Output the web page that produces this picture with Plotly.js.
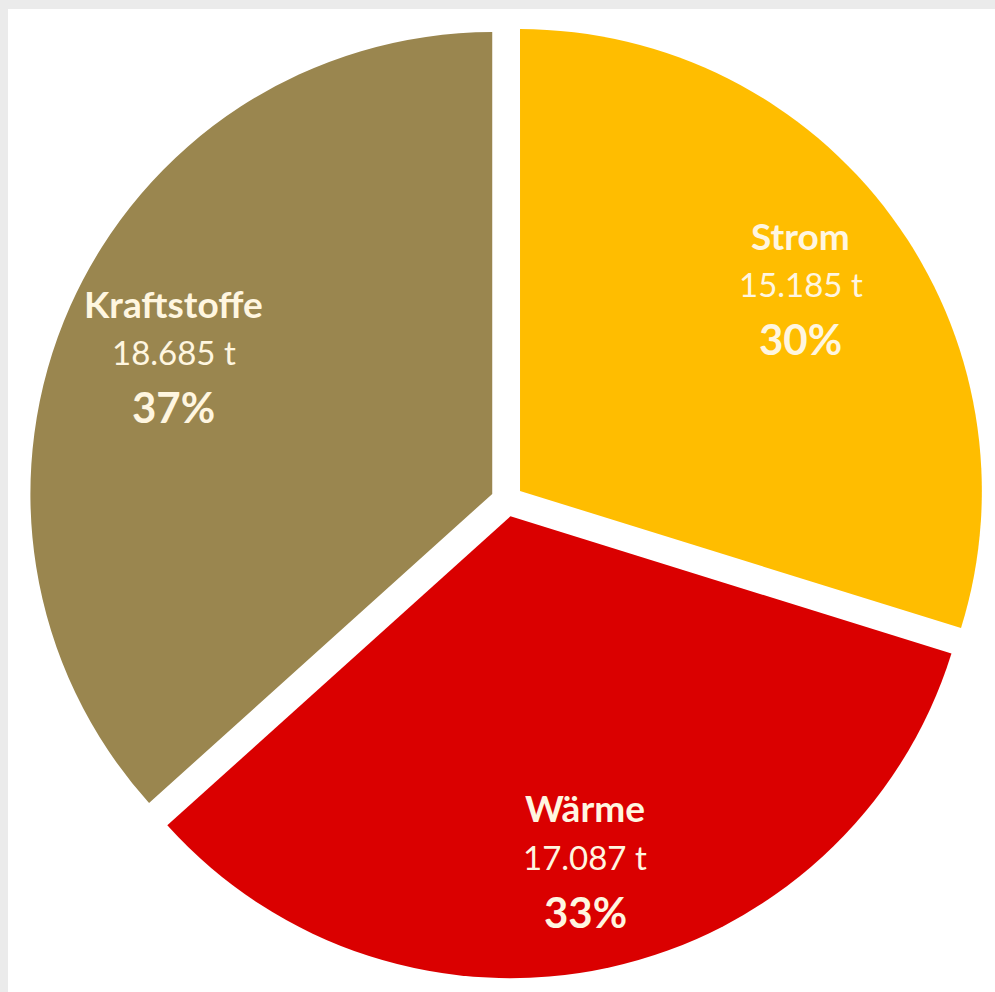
<!DOCTYPE html>
<html>
<head>
<meta charset="utf-8">
<script src="https://cdn.plot.ly/plotly-3.0.1.min.js"></script>
<style>html,body{margin:0;padding:0;background:#fff;}#chart{width:995px;height:992px;}</style>
</head>
<body>
<div id="chart"></div>
<script>
const categories = ["Strom", "Wärme", "Kraftstoffe"];
const tonnes = [15185, 17087, 18685];
const pctLabels = ["30%", "33%", "37%"];
const colors = ["#FFBD00", "#DA0000", "#9A864F"];

const W = 995, H = 992;
const domX = [0.0291, 0.990];
const domY = [0.0136, 0.9773];
const pullFrac = 0.035;

const trace = {
  type: "pie",
  labels: categories,
  values: tonnes,
  sort: false,
  direction: "clockwise",
  rotation: 0,
  pull: categories.map(() => pullFrac),
  marker: {colors: colors, line: {color: "#ffffff", width: 0}},
  textinfo: "none",
  hoverinfo: "none",
  domain: {x: domX, y: domY}
};

// label positions derived from the slice mid-angles (same geometry Plotly uses)
const cx = (domX[0] + domX[1]) / 2 * W;
const cy = (1 - (domY[0] + domY[1]) / 2) * H;
const R = Math.min((domX[1] - domX[0]) * W, (domY[1] - domY[0]) * H) / 2 / (1 + pullFrac);
const total = tonnes.reduce((a, b) => a + b, 0);
const fmt = v => v.toLocaleString("de-DE");
const txtColor = "#FFF6E0";
const fam = "Lato, 'Open Sans', sans-serif";
const annotations = [];
let cum = 0;
tonnes.forEach((v, i) => {
  const mid = (cum + v / 2) / total * 2 * Math.PI;
  cum += v;
  const px = cx + Math.sin(mid) * R * 0.79;
  const py = cy - Math.cos(mid) * R * 0.79;
  const base = {xref: "paper", yref: "paper", x: px / W, y: 1 - py / H, xanchor: "center", yanchor: "middle", showarrow: false};
  annotations.push(Object.assign({}, base, {text: "<b>" + categories[i] + "</b>", yshift: 49, font: {family: fam, size: 37, color: txtColor}}));
  annotations.push(Object.assign({}, base, {text: fmt(v) + " t", yshift: 0, font: {family: fam, size: 33, color: txtColor}}));
  annotations.push(Object.assign({}, base, {text: "<b>" + pctLabels[i] + "</b>", yshift: -55, font: {family: fam, size: 42, color: txtColor}}));
});

const layout = {
  width: W,
  height: H,
  margin: {l: 0, r: 0, t: 0, b: 0},
  paper_bgcolor: "#ffffff",
  showlegend: false,
  annotations: annotations,
  shapes: [
    {type: "rect", xref: "paper", yref: "paper", x0: 0, x1: 1, y0: 0.991, y1: 1, fillcolor: "#EBEBEB", line: {width: 0}, layer: "below"},
    {type: "rect", xref: "paper", yref: "paper", x0: 0, x1: 0.008, y0: 0, y1: 1, fillcolor: "#EBEBEB", line: {width: 0}, layer: "below"}
  ]
};

Plotly.newPlot("chart", [trace], layout, {staticPlot: true, displayModeBar: false});
</script>
</body>
</html>
